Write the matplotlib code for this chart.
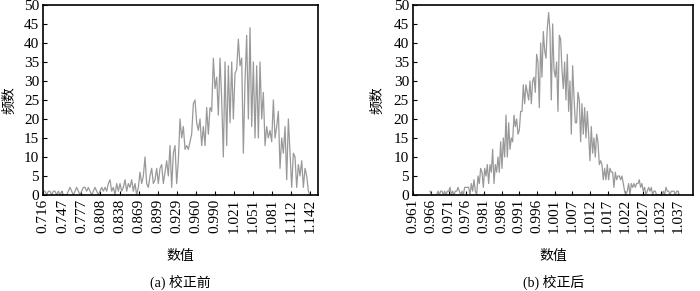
import numpy as np
import matplotlib
matplotlib.use("Agg")
import matplotlib.pyplot as plt

plt.rcParams['font.family'] = ['Liberation Serif', 'Noto Sans CJK SC']

# (a) before correction: histogram counts, bins spread over 0.716 .. 1.142
before_range = (0.716, 1.142)
before_counts = [
    1, 1, 0, 1, 1, 0, 1, 1, 0, 1, 0, 1, 0, 0, 0, 1, 2, 1, 0, 1, 2, 1, 0, 1, 2, 2, 1, 2, 1, 0, 1, 2, 1, 0,
    1, 2, 1, 2, 1, 3, 4, 1, 2, 0, 3, 1, 3, 1, 2, 4, 1, 3, 2, 4, 1, 3, 0, 2,
    6, 3, 5, 10, 3, 2, 5, 7, 3, 4, 7, 3, 7, 8, 3, 6, 9, 5, 13, 2, 11, 13, 3, 9,
    20, 15, 18, 12, 13, 12, 14, 16, 24, 25, 19, 17, 20, 13, 18, 13, 23, 16, 23, 22,
    36, 28, 31, 21, 36, 25, 10, 35, 13, 34, 19, 35, 20, 32, 33, 41, 34, 36, 11, 30, 42, 20, 44, 18,
    35, 15, 34, 15, 35, 20, 27, 13, 18, 15, 17, 14, 25, 15, 18, 22, 7, 15, 11, 18,
    4, 20, 11, 2, 11, 10, 2, 8, 5, 9, 2, 7, 5, 1, 0,
]
before_ticks = ['0.716', '0.747', '0.777', '0.808', '0.838', '0.869', '0.899', '0.929',
                '0.960', '0.990', '1.021', '1.051', '1.081', '1.112', '1.142']

# (b) after correction
after_range = (0.9658, 1.0373)
after_counts = [
    1, 0, 0, 0, 0, 0, 1, 0, 1, 1, 0, 1, 0, 1, 1, 2, 0, 1, 0, 1,
    1, 2, 1, 0, 1, 0, 2, 2, 2, 2, 0, 3, 1, 4, 1, 0, 5, 3, 7, 6,
    2, 7, 5, 8, 3, 8, 6, 12, 3, 8, 6, 10, 6, 14, 7, 15, 10, 21, 10, 19,
    12, 15, 14, 21, 18, 20, 16, 17, 22, 22, 29, 24, 29, 27, 25, 30, 24, 30, 31, 27,
    37, 35, 23, 40, 31, 43, 38, 36, 44, 48, 43, 25, 45, 33, 31, 35, 22, 42, 41, 33,
    28, 35, 25, 37, 22, 30, 16, 34, 26, 19, 19, 27, 25, 14, 24, 16, 23, 15, 22, 16,
    9, 18, 11, 15, 10, 16, 14, 8, 9, 8, 4, 7, 4, 8, 4, 7, 6, 6, 2, 6,
    4, 5, 5, 4, 5, 3, 1, 0, 1, 3, 0, 3, 2, 3, 2, 3, 3, 4, 2, 3,
    1, 2, 0, 1, 2, 1, 2, 0, 1, 1, 0, 0, 0, 0, 0, 1, 0, 2, 1, 1,
    0, 1, 1, 1, 0, 1, 1, 0,
]
after_ticks = ['0.961', '0.966', '0.971', '0.976', '0.981', '0.986', '0.991', '0.996',
               '1.001', '1.007', '1.012', '1.017', '1.022', '1.027', '1.032', '1.037']

fig = plt.figure(figsize=(7.0, 2.91), dpi=100)

def draw(rect, rng, counts, ticks, xlim, ylab_x, caption):
    ax = fig.add_axes(rect)
    x = np.linspace(rng[0], rng[1], len(counts))
    ax.plot(x, counts, color='#999999', lw=0.9)
    ax.set_xlim(*xlim)
    ax.set_ylim(0, 50)
    ax.set_yticks(range(0, 51, 5))
    ax.set_xticks(np.linspace(float(ticks[0]), float(ticks[-1]), len(ticks)))
    ax.set_xticklabels(ticks, rotation=90)
    ax.tick_params(direction='in', length=3, labelsize=11, pad=3)
    for s in ax.spines.values():
        s.set_linewidth(1.2)
    l, b, w, h = rect
    fig.text(ylab_x, b + h * 0.5, '频数', rotation=90, ha='center', va='center', fontsize=10)
    fig.text(l + w / 2, 0.117, '数值', ha='center', va='center', fontsize=10)
    fig.text(l + w / 2, 0.028, caption, ha='center', va='center', fontsize=10)
    return ax

draw([0.0619, 0.330, 0.3920, 0.653], before_range, before_counts, before_ticks,
     (0.716, 1.1543), 0.014, '(a) 校正前')
draw([0.5904, 0.330, 0.3999, 0.653], after_range, after_counts, after_ticks,
     (0.961, 1.0413), 0.540, '(b) 校正后')

fig.savefig('out.png', dpi=100)
